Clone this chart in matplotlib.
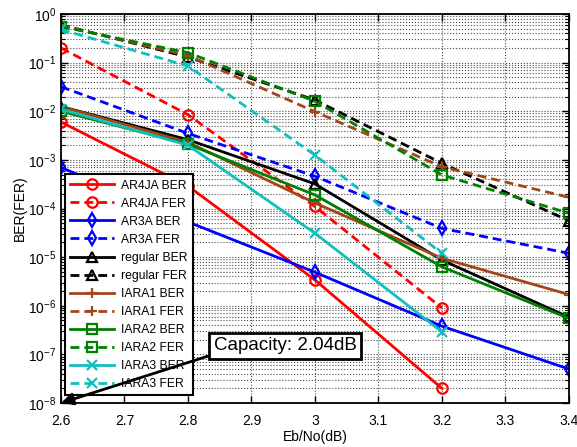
import matplotlib
matplotlib.use("Agg")
import matplotlib.pyplot as plt
import numpy as np

plt.rcParams["font.family"] = ["Liberation Sans", "DejaVu Sans"]

ebno = [2.6, 2.8, 3.0, 3.2, 3.4]

ar4ja_ber = [6.0e-3, 2.9e-4, 3.4e-6, 2.0e-8]
ar4ja_fer = [0.2, 8.5e-3, 1.1e-4, 9.0e-7]
ar3a_ber = [7.0e-4, 5.3e-5, 4.9e-6, 3.8e-7, 5.0e-8]
ar3a_fer = [3.2e-2, 3.5e-3, 4.6e-4, 3.9e-5, 1.2e-5]
regular_ber = [1.25e-2, 2.6e-3, 3.2e-4, 8.7e-6, 5.8e-7]
regular_fer = [0.6, 0.13, 1.7e-2, 8.5e-4, 5.6e-5]
iara1_ber = [1.25e-2, 2.3e-3, 1.3e-4, 9.5e-6, 1.7e-6]
iara1_fer = [0.58, 0.14, 9.8e-3, 7.2e-4, 1.7e-4]
iara2_ber = [1.0e-2, 2.1e-3, 1.9e-4, 6.3e-6, 5.5e-7]
iara2_fer = [0.55, 0.16, 1.6e-2, 4.9e-4, 8.0e-5]
iara3_ber = [1.1e-2, 2.0e-3, 3.1e-5, 2.9e-7]
iara3_fer = [0.48, 8.5e-2, 1.25e-3, 1.2e-5]

brown = "#a0461a"
green = "#008000"
cyan = "#10bfbf"

series = [
    ("AR4JA BER", ar4ja_ber, "r", "-", "o"),
    ("AR4JA FER", ar4ja_fer, "r", "--", "o"),
    ("AR3A BER", ar3a_ber, "b", "-", "d"),
    ("AR3A FER", ar3a_fer, "b", "--", "d"),
    ("regular BER", regular_ber, "k", "-", "^"),
    ("regular FER", regular_fer, "k", "--", "^"),
    ("IARA1 BER", iara1_ber, brown, "-", "+"),
    ("IARA1 FER", iara1_fer, brown, "--", "+"),
    ("IARA2 BER", iara2_ber, green, "-", "s"),
    ("IARA2 FER", iara2_fer, green, "--", "s"),
    ("IARA3 BER", iara3_ber, cyan, "-", "x"),
    ("IARA3 FER", iara3_fer, cyan, "--", "x"),
]

fig = plt.figure(figsize=(5.77, 4.47), dpi=100)
ax = fig.add_axes([0.1057, 0.0984, 0.8803, 0.8703])

for label, values, color, style, marker in series:
    line, = ax.semilogy(ebno[:len(values)], values, color=color, linestyle=style,
                        marker=marker, markersize=7.5, markerfacecolor="none",
                        markeredgewidth=1.6, linewidth=2, label=label)
    if style == "--":
        line.set_dashes((3.2, 1.8))

ax.set_xlim(2.6, 3.4)
ax.set_ylim(1e-8, 1)
ax.set_xticks(np.arange(2.6, 3.41, 0.1))
ax.set_xticklabels(["2.6", "2.7", "2.8", "2.9", "3", "3.1", "3.2", "3.3", "3.4"])
ax.tick_params(which="both", direction="in", top=True, right=True, labelsize=10)
ax.tick_params(axis="x", which="major", pad=8)
ax.tick_params(which="major", length=5, width=1)
ax.tick_params(which="minor", length=3, width=0.8)
ax.grid(True, which="major", linestyle=":", color="0.3", linewidth=0.8)
ax.grid(True, which="minor", axis="y", linestyle=":", color="0.3", linewidth=0.8)
for spine in ax.spines.values():
    spine.set_linewidth(1.3)

ax.set_xlabel("Eb/No(dB)", fontsize=10, labelpad=1)
ax.set_ylabel("BER(FER)", fontsize=10, labelpad=1)

leg = ax.legend(loc="lower left", bbox_to_anchor=(0.0, 0.01), fontsize=8.7,
                handlelength=3.6, handletextpad=0.6, labelspacing=0.5,
                borderaxespad=0.3, fancybox=False, framealpha=1, edgecolor="k",
                borderpad=0.45)
leg.get_frame().set_linewidth(1.5)

cap = ax.annotate("Capacity: 2.04dB", xy=(2.6, 1e-8), xytext=(2.953, 1.5e-7),
                  fontsize=13.5, ha="center", va="center",
                  bbox=dict(boxstyle="square,pad=0.25", fc="white", ec="k", lw=2),
                  arrowprops=dict(arrowstyle="-|>", color="k", lw=2,
                                  mutation_scale=18, relpos=(0, 0),
                                  shrinkA=0, shrinkB=0))
cap.set_zorder(10)

fig.savefig("out.png", dpi=100)
